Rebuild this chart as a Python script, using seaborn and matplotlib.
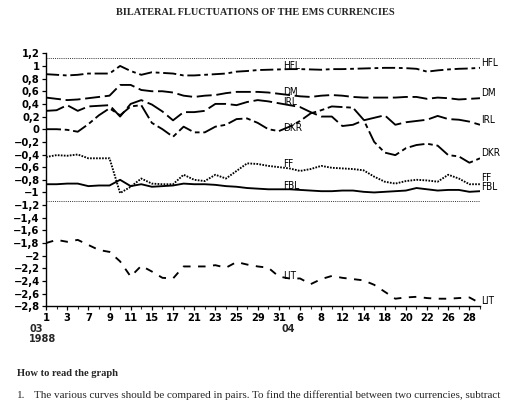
import numpy as np
import pandas as pd
import matplotlib
matplotlib.use("Agg")
import matplotlib.pyplot as plt
import matplotlib.transforms as mtransforms
import seaborn as sns

# ---------------- data ----------------
march_days = [1, 2, 3, 4, 7, 8, 9, 10, 11, 14, 15, 16, 17, 18, 21, 22, 23, 24, 25, 28, 29, 30, 31]
april_days = [5, 6, 7, 8, 11, 12, 13, 14, 15, 18, 19, 20, 21, 22, 25, 26, 27, 28, 29]
day_numbers = march_days + april_days
month_labels = ["03", "04"]
year_label = "1988"

hfl = [0.87, 0.86, 0.85, 0.86, 0.88, 0.88, 0.88, 1.00, 0.92, 0.86, 0.90, 0.89, 0.88, 0.85,
       0.85, 0.86, 0.87, 0.88, 0.91, 0.92, 0.935, 0.94, 0.945, 0.95, 0.95, 0.945, 0.94, 0.95,
       0.95, 0.955, 0.96, 0.965, 0.97, 0.97, 0.965, 0.955, 0.91, 0.93, 0.945, 0.955, 0.96, 0.97]
dm = [0.50, 0.48, 0.46, 0.47, 0.49, 0.51, 0.53, 0.70, 0.70, 0.62, 0.60, 0.60, 0.58, 0.53,
      0.51, 0.53, 0.54, 0.57, 0.59, 0.59, 0.59, 0.58, 0.56, 0.54, 0.52, 0.51, 0.53, 0.54,
      0.53, 0.51, 0.50, 0.50, 0.50, 0.50, 0.51, 0.51, 0.48, 0.50, 0.49, 0.47, 0.48, 0.49]
irl = [0.29, 0.30, 0.38, 0.29, 0.36, 0.37, 0.38, 0.20, 0.40, 0.46, 0.39, 0.28, 0.14, 0.27,
       0.27, 0.29, 0.40, 0.40, 0.38, 0.43, 0.46, 0.44, 0.41, 0.38, 0.35, 0.27, 0.20, 0.20,
       0.05, 0.07, 0.14, 0.18, 0.22, 0.07, 0.11, 0.13, 0.15, 0.21, 0.16, 0.15, 0.12, 0.07]
dkr = [0.00, 0.00, -0.01, -0.04, 0.08, 0.22, 0.33, 0.22, 0.36, 0.38, 0.10, 0.00, -0.12, 0.04,
       -0.05, -0.05, 0.04, 0.07, 0.16, 0.17, 0.10, 0.00, -0.03, 0.04, 0.13, 0.25, 0.30, 0.36,
       0.35, 0.34, 0.15, -0.20, -0.37, -0.41, -0.30, -0.25, -0.23, -0.26, -0.41, -0.43, -0.53, -0.46]
ff = [-0.44, -0.41, -0.42, -0.40, -0.46, -0.46, -0.46, -1.01, -0.91, -0.78, -0.86, -0.87, -0.87, -0.72,
      -0.80, -0.82, -0.72, -0.78, -0.66, -0.54, -0.55, -0.58, -0.60, -0.62, -0.66, -0.63, -0.58, -0.61,
      -0.62, -0.63, -0.65, -0.75, -0.83, -0.86, -0.82, -0.80, -0.81, -0.83, -0.72, -0.78, -0.87, -0.87]
fbl = [-0.87, -0.87, -0.86, -0.86, -0.90, -0.89, -0.89, -0.80, -0.90, -0.87, -0.91, -0.90, -0.89, -0.86,
       -0.87, -0.87, -0.88, -0.90, -0.91, -0.93, -0.94, -0.95, -0.95, -0.95, -0.96, -0.97, -0.98, -0.98,
       -0.97, -0.97, -0.99, -1.00, -0.99, -0.98, -0.97, -0.93, -0.95, -0.97, -0.96, -0.96, -0.99, -0.98]
lit = [-1.80, -1.75, -1.78, -1.75, -1.83, -1.91, -1.94, -2.09, -2.33, -2.16, -2.25, -2.35, -2.36, -2.17,
       -2.17, -2.17, -2.15, -2.19, -2.10, -2.14, -2.17, -2.19, -2.33, -2.36, -2.36, -2.45, -2.37, -2.32,
       -2.35, -2.37, -2.39, -2.46, -2.57, -2.68, -2.66, -2.65, -2.67, -2.68, -2.68, -2.67, -2.66, -2.75]

series_names = ["HFL", "DM", "IRL", "DKR", "FF", "FBL", "LIT"]
series_values = [hfl, dm, irl, dkr, ff, fbl, lit]
band_limit = 1.13

y_ticks = [round(v, 1) for v in np.arange(-2.8, 1.21, 0.2)]

# ---------------- style ----------------
sns.set_style("ticks")
plt.rcParams["font.family"] = ["DejaVu Sans"]

styles = {
    "HFL": dict(linestyle=(0, (7, 2, 2, 2))),
    "DM": dict(linestyle=(0, (8, 2.5))),
    "IRL": dict(linestyle=(0, (10, 2.5))),
    "DKR": dict(linestyle=(0, (8, 2, 2.5, 2))),
    "FF": dict(linestyle=(0, (0.9, 0.7))),
    "FBL": dict(linestyle="-"),
    "LIT": dict(linestyle=(0, (4, 4))),
}

mid_label_pos = {"HFL": 1.00, "DM": 0.59, "IRL": 0.425, "DKR": 0.015,
                 "FF": -0.55, "FBL": -0.90, "LIT": -2.32}
end_label_pos = {"HFL": 1.05, "DM": 0.57, "IRL": 0.145, "DKR": -0.38,
                 "FF": -0.77, "FBL": -0.92, "LIT": -2.71}

fig = plt.figure(figsize=(5.18, 4.0), dpi=100)
fig.patch.set_facecolor("white")
ax = fig.add_axes([46 / 518, 1 - 306.3 / 400, (480 - 46) / 518, (306.3 - 53.3) / 400])

x = np.arange(len(day_numbers))
for name, vals in zip(series_names, series_values):
    df = pd.DataFrame({"x": x, "y": vals})
    sns.lineplot(data=df, x="x", y="y", ax=ax, color="black", lw=1.35,
                 **styles[name])

for yv in (band_limit, -band_limit):
    ax.axhline(yv, color="#333333", lw=0.7, linestyle=(0, (1, 1.2)))

label_font = dict(family=["DejaVu Sans"], fontsize=7.2, color="black",
                  fontstretch="condensed")
for name in series_names:
    ax.text(22.4, mid_label_pos[name], name, ha="left", va="center", **label_font)
    ax.text(len(day_numbers) - 1 + 0.1, end_label_pos[name], name, ha="left",
            va="center", **label_font)

ax.set_xlim(0, len(day_numbers) - 1)
ax.set_ylim(-2.8, 1.2)
ax.set_xlabel("")
ax.set_ylabel("")

def fmt(v):
    if abs(v - round(v)) < 1e-9:
        s = str(int(round(v)))
    else:
        s = f"{v:.1f}".replace(".", ",")
    return s.replace("-", "\u2212")

ax.set_yticks(y_ticks)
ax.set_yticklabels([fmt(v) for v in y_ticks])

major = list(range(0, len(day_numbers), 2))
minor = list(range(1, len(day_numbers), 2))
ax.set_xticks(major)
ax.set_xticklabels([str(day_numbers[i]) for i in major])
ax.set_xticks(minor, minor=True)

ax.tick_params(axis="both", which="major", length=3, width=0.9, labelsize=7.2,
               pad=1.5, direction="out", colors="black")
ax.tick_params(axis="x", which="minor", length=2, width=0.8, direction="out")
for lab in ax.get_xticklabels() + ax.get_yticklabels():
    lab.set_fontweight("bold")

trans = mtransforms.blended_transform_factory(ax.transData, ax.transAxes)
ax.text(-1.6, -0.068, month_labels[0] + "\n" + year_label, transform=trans, ha="left",
        va="top", fontsize=7, fontweight="bold", linespacing=1.0)
ax.text(len(march_days) - 0.1, -0.068, month_labels[1], transform=trans, ha="center",
        va="top", fontsize=7, fontweight="bold")

sns.despine(ax=ax, top=True, right=True)
for sp in ("left", "bottom"):
    ax.spines[sp].set_linewidth(1.0)
    ax.spines[sp].set_color("black")

serif = ["Liberation Serif", "DejaVu Serif"]
fig.text(255 / 518, 1 - 12.5 / 400, "BILATERAL FLUCTUATIONS OF THE EMS CURRENCIES",
         ha="center", va="center", family=serif, fontweight="bold", fontsize=7.4)
fig.text(17 / 518, 1 - 373 / 400, "How to read the graph", ha="left", va="center",
         family=serif, fontweight="bold", fontsize=7.6)
fig.text(17 / 518, 1 - 395 / 400, "1.", ha="left", va="center", family=serif, fontsize=8)
fig.text(34 / 518, 1 - 395 / 400,
         "The various curves should be compared in pairs. To find the differential between two currencies, subtract",
         ha="left", va="center", family=serif, fontsize=8)

fig.savefig("out.png", dpi=100, facecolor="white")
